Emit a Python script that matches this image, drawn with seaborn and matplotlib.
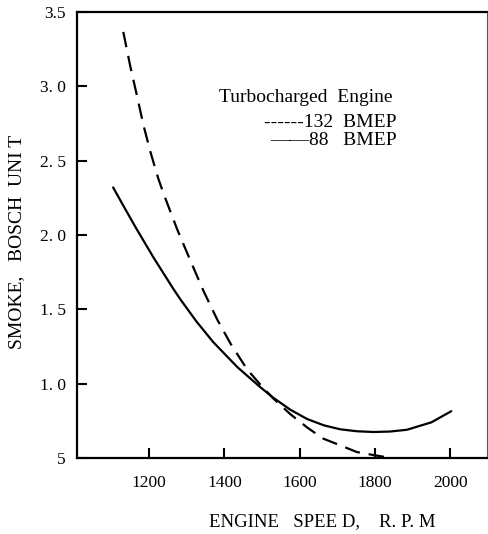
#!/usr/bin/env python3
# Smoke vs engine speed, turbocharged engine

import pandas as pd
import matplotlib
matplotlib.use('Agg')
import matplotlib.pyplot as plt
import seaborn as sns

# Read-off values
rpm_88 = [1104, 1135, 1163, 1211, 1264, 1282, 1325, 1370, 1434, 1495, 1530, 1575, 1620,
          1664, 1708, 1752, 1796, 1840, 1885, 1950, 2003]
smoke_88 = [2.32, 2.18, 2.055, 1.85, 1.638, 1.57, 1.42, 1.28, 1.112, 0.977, 0.905, 0.825, 0.762,
            0.72, 0.693, 0.68, 0.675, 0.678, 0.69, 0.74, 0.815]

rpm_132 = [1131, 1150, 1168, 1184, 1203, 1224, 1240, 1274, 1309, 1344, 1381, 1416, 1460,
           1500, 1530, 1575, 1620, 1663, 1710, 1752, 1800, 1832]
smoke_132 = [3.366, 3.13, 2.93, 2.745, 2.56, 2.38, 2.265, 2.04, 1.83, 1.625, 1.43, 1.27, 1.097,
             0.98, 0.90, 0.795, 0.705, 0.63, 0.583, 0.54, 0.518, 0.505]

x_ticks = [1200, 1400, 1600, 1800, 2000]
y_ticks = [0.5, 1.0, 1.5, 2.0, 2.5, 3.0, 3.5]
y_tick_labels = ['5', '1. 0', '1. 5', '2. 0', '2. 5', '3. 0', '3.5']

df = pd.concat([
    pd.DataFrame({'rpm': rpm_88, 'smoke': smoke_88, 'bmep': '88'}),
    pd.DataFrame({'rpm': rpm_132, 'smoke': smoke_132, 'bmep': '132'}),
])

sns.set_style('ticks')
plt.rcParams['font.family'] = ['Liberation Serif', 'DejaVu Serif']
plt.rcParams['text.color'] = 'black'
plt.rcParams['axes.labelcolor'] = 'black'

fig = plt.figure(figsize=(4.89, 5.34), dpi=100)
ax = fig.add_axes([0.1575, 0.1423, 0.8385, 0.8352])

sns.lineplot(data=df, x='rpm', y='smoke', style='bmep', hue='bmep',
             palette={'88': 'black', '132': 'black'},
             dashes={'88': '', '132': (7, 4)},
             linewidth=1.6, legend=False, sort=False, ax=ax)

ax.set_xlim(1008, 2098)
ax.set_ylim(0.5, 3.5)
ax.set_xticks(x_ticks)
ax.set_xticklabels([str(t) for t in x_ticks], fontsize=12.5)
ax.set_yticks(y_ticks)
ax.set_yticklabels(y_tick_labels, fontsize=12.5)
ax.tick_params(direction='in', length=7, width=1.5, pad=8, colors='black')
ax.tick_params(axis='x', pad=12)

for side in ['left', 'bottom', 'top']:
    ax.spines[side].set_linewidth(1.6)
    ax.spines[side].set_color('black')
ax.spines['right'].set_linewidth(0.8)
ax.spines['right'].set_color('#555555')

ax.set_xlabel('ENGINE   SPEE D,    R. P. M', fontsize=13.5, va='center')
ax.xaxis.set_label_coords(0.598, -0.1435)
ax.set_ylabel('SMOKE,   BOSCH  UNI T', fontsize=14, va='center')
ax.yaxis.set_label_coords(-0.148, 0.484)

ax.text(0.346, 0.809, 'Turbocharged  Engine', transform=ax.transAxes, fontsize=14, va='center')
ax.text(0.78, 0.753, '------132  BMEP', transform=ax.transAxes, fontsize=14,
        va='center', ha='right')
ax.text(0.78, 0.711, '\u2014\u201488   BMEP', transform=ax.transAxes, fontsize=14,
        va='center', ha='right')

fig.savefig('out.png', dpi=100)
